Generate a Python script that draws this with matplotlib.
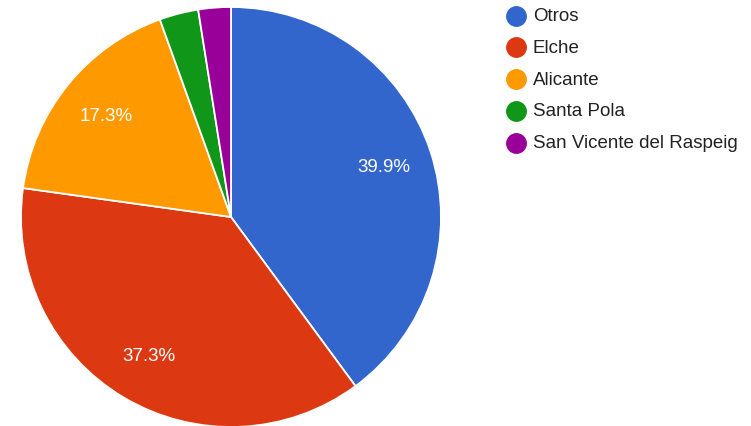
import matplotlib
matplotlib.use("Agg")
import matplotlib.pyplot as plt

# slice data (percent), Google-Charts style ordering, clockwise from 12 o'clock
labels = ["Otros", "Elche", "Alicante", "Santa Pola", "San Vicente del Raspeig"]
values = [39.9, 37.3, 17.3, 3.0, 2.5]
colors = ["#3366cc", "#dc3912", "#ff9900", "#109618", "#990099"]

plt.rcParams["font.family"] = ["Liberation Sans", "DejaVu Sans"]

W, H = 751, 427
fig = plt.figure(figsize=(W / 100, H / 100), dpi=100)

# pie centred at (231, 218) px with radius 210 px
cx, cy, r = 231, 218, 210
ax = fig.add_axes([(cx - r) / W, (H - cy - r) / H, 2 * r / W, 2 * r / H])
wedges, texts, autotexts = ax.pie(
    values, colors=colors, startangle=90, counterclock=False,
    autopct=lambda p: f"{p:.1f}%" if p > 5 else "", pctdistance=0.765,
    wedgeprops=dict(edgecolor="white", linewidth=1.3),
    textprops=dict(color="white", fontsize=13.5))
ax.set_xlim(-1.0, 1.0); ax.set_ylim(-1.0, 1.0); ax.set_aspect("equal")
ax.axis("off")

# legend drawn by hand: circle marker + label per row
lx_dot, lx_txt, ly0, dy = 516, 533, 16.5, 31.8
for i, (lab, c) in enumerate(zip(labels, colors)):
    y = 1 - (ly0 + i * dy) / H
    fig.lines.append(plt.Line2D([lx_dot / W], [y], marker="o", ms=14,
                                color=c, transform=fig.transFigure))
    fig.text(lx_txt / W, y, lab, fontsize=13.5, color="#222222",
             va="center", ha="left")

fig.savefig("out.png", dpi=100)
